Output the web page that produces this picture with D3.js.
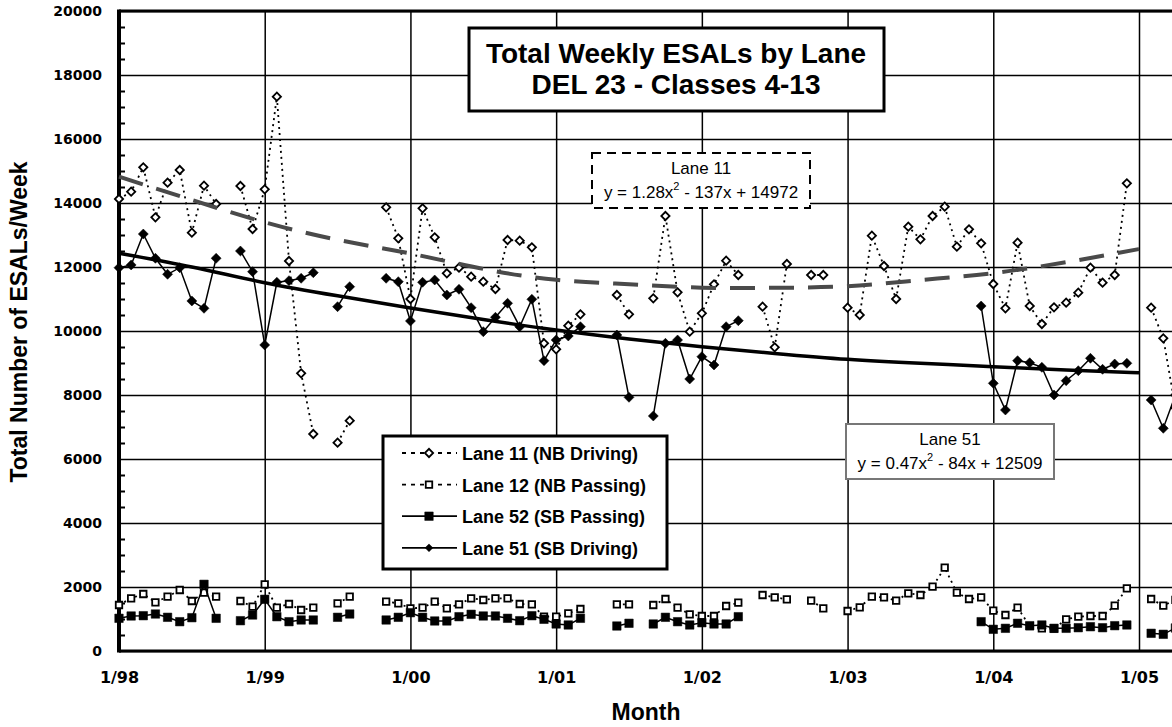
<!DOCTYPE html>
<html lang="en">
<head>
<meta charset="UTF-8">
<script src="https://cdnjs.cloudflare.com/ajax/libs/d3/7.8.5/d3.min.js"></script>
<title>Total Weekly ESALs by Lane</title>
<style>
    body { margin: 0; background: #fff; }
    svg { display: block; font-family: "Liberation Sans", Arial, sans-serif; }
</style>
</head>
<body>
<div id="content"></div>
<script>
// month index 0 = 1/98, one value per month, null = no data
const lane11 = [14125, 14353, 15115, 13553, 14634, 15031, 13072, 14541, 13969, null, 14531, 13187,
    14428, 17322, 12188, 8678, 6781, null, 6509, 7197, null, null, 13865, 12897,
    11000, 13834, 12928, 11803, 11978, 11697, 11541, 11313, 12844, 12822, 12616, 9616,
    9428, 10166, 10522, null, null, 11125, 10522, null, 11022, 13594, 11209, 9978,
    10553, 11459, 12197, 11750, null, 10760, 9490, 12094, null, 11750, 11750, null,
    10728, 10500, 12978, 12031, 11000, 13259, 12866, 13594, 13884, 12634, 13178, 12740,
    11469, 10709, 12759, 10781, 10219, 10741, 10884, 11197, 11978, 11509, 11750, 14616,
    null, 10728, 9772, 7600];
const lane12 = [1438, 1647, 1781, 1522, 1697, 1906, 1563, 1822, 1697, null, 1563, 1384,
    2084, 1353, 1469, 1281, 1353, null, 1491, 1697, null, null, 1541, 1491,
    1334, 1353, 1541, 1334, 1459, 1647, 1594, 1647, 1647, 1469, 1459, 1072,
    1072, 1178, 1313, null, null, 1459, 1459, null, 1438, 1625, 1353, 1147,
    1094, 1094, 1406, 1509, null, 1750, 1678, 1616, null, 1572, 1334, null,
    1250, 1366, 1697, 1678, 1572, 1803, 1750, 2009, 2603, 1822, 1625, 1678,
    1259, 1125, 1353, 780, 709, 700, 991, 1072, 1094, 1094, 1416, 1959,
    null, 1625, 1416, 1600];
const lane52 = [1022, 1094, 1103, 1156, 1053, 916, 1041, 2084, 1022, null, 947, 1125,
    1616, 1072, 916, 969, 969, null, 1053, 1156, null, null, 969, 1053,
    1197, 1053, 938, 938, 1072, 1147, 1094, 1094, 1022, 947, 1103, 991,
    844, 813, 1022, null, null, 781, 866, null, 844, 1053, 916, 813,
    884, 844, 844, 1072, null, null, null, null, null, null, null, null,
    null, null, null, null, null, null, null, null, null, null, null, 916,
    678, 709, 866, 791, 813, 709, 709, 728, 759, 728, 791, 813,
    null, 553, 522, 720];
const lane51 = [11978, 12063, 13031, 12272, 11772, 11978, 10938, 10709, 12272, null, 12500, 11853,
    9563, 11522, 11572, 11647, 11822, null, 10760, 11385, null, null, 11647, 11541,
    10313, 11522, 11594, 11125, 11303, 10728, 9978, 10428, 10866, 10134, 10991, 9072,
    9719, 9844, 10134, null, null, 9875, 7928, null, 7344, 9616, 9719, 8500,
    9197, 8938, 10134, 10322, null, null, null, null, null, null, null, null,
    null, null, null, null, null, null, null, null, null, null, null, 10781,
    8365, 7531, 9072, 9009, 8866, 8000, 8447, 8759, 9147, 8803, 8969, 8991,
    null, 7844, 6959, 8000];

// polynomial trend lines, read every 6 months
const trendMonths = [0, 6, 12, 18, 24, 30, 36, 42, 48, 54, 60, 66, 72, 78, 84];
const lane11Trend = [14822, 14094, 13400, 12850, 12420, 11940, 11600, 11460, 11355, 11350, 11400, 11590, 11810, 12150, 12560];
const lane51Trend = [12428, 12000, 11510, 11100, 10720, 10360, 10031, 9750, 9510, 9300, 9115, 8990, 8885, 8780, 8697];

const yearTicks = [0, 12, 24, 36, 48, 60, 72, 84];
const yearLabels = ['1/98', '1/99', '1/00', '1/01', '1/02', '1/03', '1/04', '1/05'];
const yTicks = [0, 2000, 4000, 6000, 8000, 10000, 12000, 14000, 16000, 18000, 20000];
const legendLabels = ['Lane 11 (NB Driving)', 'Lane 12 (NB Passing)', 'Lane 52 (SB Passing)', 'Lane 51 (SB Driving)'];

const width = 1172;
const height = 727;
const x = d3.scaleLinear().domain([0, 84]).range([119, 1139]);
const y = d3.scaleLinear().domain([0, 20000]).range([651, 11]);
const months = lane11.map((v, i) => i);

const svg = d3.select('#content')
    .append('svg')
    .attr('width', width)
    .attr('height', height);

//Grid (plot runs on past the right edge of the window)
svg.append('g')
    .attr('transform', `translate(${x(0)},0)`)
    .call(d3.axisLeft(y).tickValues(yTicks).tickSize(-(x(96) - x(0))).tickFormat(''))
    .call(g => g.select('.domain').remove())
    .selectAll('line').attr('stroke', '#000').attr('stroke-width', 1.5);
svg.append('g')
    .attr('transform', `translate(0,${y(0)})`)
    .call(d3.axisBottom(x).tickValues(yearTicks.concat([96])).tickSize(-(y(0) - y(20000))).tickFormat(''))
    .call(g => g.select('.domain').remove())
    .selectAll('line').attr('stroke', '#000').attr('stroke-width', 1.5);

//Frame
svg.append('line').attr('x1', x(0)).attr('x2', width).attr('y1', y(20000)).attr('y2', y(20000))
    .attr('stroke', '#000').attr('stroke-width', 3);
svg.append('line').attr('x1', x(0)).attr('x2', width).attr('y1', y(0)).attr('y2', y(0))
    .attr('stroke', '#000').attr('stroke-width', 3);
svg.append('line').attr('x1', x(0)).attr('x2', x(0)).attr('y1', y(20000) - 1.5).attr('y2', y(0) + 1.5)
    .attr('stroke', '#000').attr('stroke-width', 4);

//Minor ticks
svg.append('g')
    .attr('transform', `translate(${x(0)},0)`)
    .call(d3.axisRight(y).tickValues(d3.range(500, 20000, 500).filter(v => v % 2000)).tickSize(6).tickFormat(''))
    .call(g => g.select('.domain').remove())
    .selectAll('line').attr('stroke', '#000').attr('stroke-width', 2);

//Axis labels
svg.append('g')
    .attr('transform', `translate(${x(0)},0)`)
    .call(d3.axisLeft(y).tickValues(yTicks).tickSize(0).tickPadding(17).tickFormat(d3.format('d')))
    .call(g => g.select('.domain').remove())
    .selectAll('text')
    .style('font-family', '"DejaVu Sans", sans-serif')
    .style('font-weight', 'bold')
    .style('font-size', '14px')
    .attr('fill', '#000');
svg.append('g')
    .attr('transform', `translate(0,${y(0)})`)
    .call(d3.axisBottom(x).tickValues(yearTicks).tickSize(0).tickPadding(21).tickFormat((d, i) => yearLabels[i]))
    .call(g => g.select('.domain').remove())
    .selectAll('text')
    .style('font-family', '"DejaVu Sans", sans-serif')
    .style('font-weight', 'bold')
    .style('font-size', '16px')
    .attr('fill', '#000');

svg.append('text')
    .attr('x', 646).attr('y', 720)
    .attr('text-anchor', 'middle')
    .style('font-weight', 'bold').style('font-size', '23px')
    .text('Month');
svg.append('text')
    .attr('transform', 'translate(27,322) rotate(-90)')
    .attr('text-anchor', 'middle')
    .style('font-weight', 'bold').style('font-size', '23px')
    .text('Total Number of ESALs/Week');

//Series
const line = d3.line()
    .defined(d => d[1] != null)
    .x(d => x(d[0]))
    .y(d => y(d[1]));
const pairs = arr => months.map(i => [i, arr[i]]);
const diamond = s => d3.symbol().type(d3.symbolSquare).size(s)();
const square = s => d3.symbol().type(d3.symbolSquare).size(s)();

function drawSeries(arr, dash, shape, rot, fill, stroke) {
    const g = svg.append('g');
    g.append('path')
        .attr('d', line(pairs(arr)))
        .attr('fill', 'none')
        .attr('stroke', '#000')
        .attr('stroke-width', dash ? 1.8 : 1.5)
        .attr('stroke-dasharray', dash);
    g.selectAll('path.pt')
        .data(pairs(arr).filter(d => d[1] != null))
        .enter()
        .append('path')
        .attr('class', 'pt')
        .attr('d', shape)
        .attr('transform', d => `translate(${x(d[0])},${y(d[1])}) rotate(${rot})`)
        .attr('fill', fill)
        .attr('stroke', '#000')
        .attr('stroke-width', stroke);
}

drawSeries(lane12, '2,4', square(42), 0, '#fff', 1.8);
drawSeries(lane52, null, square(72), 0, '#000', 0.5);
drawSeries(lane11, '2,4', diamond(34), 45, '#fff', 1.8);
drawSeries(lane51, null, diamond(50), 45, '#000', 0.5);

//Trend lines
const trend = d3.line()
    .curve(d3.curveNatural)
    .x((d, i) => x(trendMonths[i]))
    .y(d => y(d));
svg.append('path')
    .attr('d', trend(lane11Trend))
    .attr('fill', 'none')
    .attr('stroke', '#4a4a4a')
    .attr('stroke-width', 4)
    .attr('stroke-dasharray', '25,14');
svg.append('path')
    .attr('d', trend(lane51Trend))
    .attr('fill', 'none')
    .attr('stroke', '#000')
    .attr('stroke-width', 3.5);

//Title
svg.append('rect')
    .attr('x', 469).attr('y', 28).attr('width', 415).attr('height', 83)
    .attr('fill', '#fff').attr('stroke', '#000').attr('stroke-width', 3);
svg.append('text')
    .attr('x', 676).attr('y', 63)
    .attr('text-anchor', 'middle')
    .style('font-weight', 'bold').style('font-size', '28px')
    .text('Total Weekly ESALs by Lane');
svg.append('text')
    .attr('x', 676).attr('y', 94)
    .attr('text-anchor', 'middle')
    .style('font-weight', 'bold').style('font-size', '28px')
    .text('DEL 23 - Classes 4-13');

//Equation labels
function eqBox(bx, by, bw, bh, dash, stroke, name, a, rest) {
    svg.append('rect')
        .attr('x', bx).attr('y', by).attr('width', bw).attr('height', bh)
        .attr('fill', '#fff').attr('stroke', stroke).attr('stroke-width', 2)
        .attr('stroke-dasharray', dash);
    const cx = bx + bw / 2;
    svg.append('text')
        .attr('x', cx).attr('y', by + 21)
        .attr('text-anchor', 'middle')
        .style('font-size', '17px')
        .text(name);
    const t = svg.append('text')
        .attr('x', cx).attr('y', by + 45)
        .attr('text-anchor', 'middle')
        .style('font-size', '17px');
    t.append('tspan').text(a);
    t.append('tspan').attr('dy', -8).style('font-size', '11px').text('2');
    t.append('tspan').attr('dy', 8).text(rest);
}
eqBox(592, 153, 218, 55, '9,6', '#000', 'Lane 11', 'y = 1.28x', ' - 137x + 14972');
eqBox(846, 424, 208, 55, null, '#777', 'Lane 51', 'y = 0.47x', ' - 84x + 12509');

//Legend
const legend = svg.append('g');
legend.append('rect')
    .attr('x', 383).attr('y', 436).attr('width', 284).attr('height', 133)
    .attr('fill', '#fff').attr('stroke', '#000').attr('stroke-width', 3);
const legendStyle = [
    { dash: '4,5', d: diamond(34), rot: 45, fill: '#fff', sw: 1.8 },
    { dash: '4,5', d: square(42), rot: 0, fill: '#fff', sw: 1.8 },
    { dash: null, d: square(72), rot: 0, fill: '#000', sw: 0.5 },
    { dash: null, d: diamond(30), rot: 45, fill: '#000', sw: 0.5 }
];
legendLabels.forEach((name, i) => {
    const cy = 453 + i * 31.6;
    const s = legendStyle[i];
    legend.append('line')
        .attr('x1', 402).attr('x2', 457).attr('y1', cy).attr('y2', cy)
        .attr('stroke', '#000').attr('stroke-width', 1.8)
        .attr('stroke-dasharray', s.dash);
    legend.append('path')
        .attr('d', s.d)
        .attr('transform', `translate(429,${cy}) rotate(${s.rot})`)
        .attr('fill', s.fill).attr('stroke', '#000').attr('stroke-width', s.sw);
    legend.append('text')
        .attr('x', 462).attr('y', cy + 7)
        .style('font-weight', 'bold').style('font-size', '18px')
        .text(name);
});
</script>
</body>
</html>
